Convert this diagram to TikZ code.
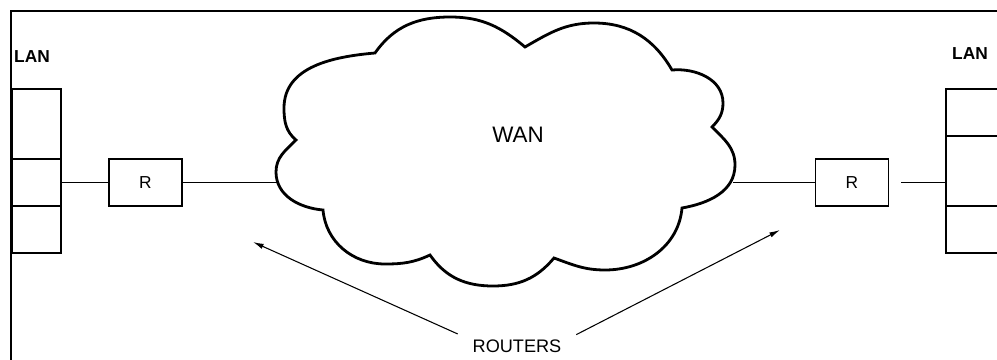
\documentclass[tikz,border=0pt]{standalone}
\usepackage{fontspec}
\setsansfont{Liberation Sans}
\usetikzlibrary{arrows.meta,positioning}

\begin{document}
\begin{tikzpicture}[x=0.75pt, y=0.75pt, font=\sffamily]
\tikzstyle{router}=[rectangle, draw, line width=0.9pt, minimum width=54.75pt, minimum height=35.25pt, inner sep=0pt, font=\sffamily\fontsize{13}{15}\selectfont]
\tikzstyle{lanbox}=[rectangle, draw, line width=0.9pt, minimum width=36.75pt, minimum height=123pt, inner sep=0pt]
\tikzstyle{lantag}=[inner sep=0pt, font=\sffamily\bfseries\fontsize{13}{15}\selectfont]
\tikzstyle{wire}=[line width=0.9pt]
\tikzstyle{pointer}=[line width=0.8pt, -{Latex[length=8pt, width=4pt]}]
\useasboundingbox (0,0) rectangle (997,-360);
% frame
\draw[line width=1.4pt] (11,-360) -- (11,-11) -- (997,-11);
% left LAN
\node[lantag] (lanAtag) at (32,-57) {LAN};
\node[lanbox] (lanA) at (36.5,-171) {};
\draw[wire] (lanA.west |- 0,-159) -- (lanA.east |- 0,-159) (lanA.west |- 0,-206) -- (lanA.east |- 0,-206);
% right LAN, open to the edge
\node[lantag] (lanBtag) at (970,-54) {LAN};
\coordinate (lanB) at (946,-182.5);
\draw[wire] (997,-89) -- (946,-89) -- (946,-253) -- (997,-253) (946,-136) -- (997,-136) (946,-206) -- (997,-206);
% routers
\node[router] (rA) at (145.5,-182.5) {R};
\node[router] (rB) at (852,-182.5) {R};
% WAN cloud
\draw[line width=2.1pt, fill=white] (296,-140) to[out=140,in=-90] (284,-108) to[out=90,in=185] (375,-53)
  to[out=55,in=180] (450,-17) to[out=0,in=140] (525,-47)
  to[out=30,in=180] (594,-23) to[out=0,in=120] (672,-70)
  to[out=5,in=90] (723,-103) to[out=-90,in=45] (712,-127)
  to[out=-45,in=90] (735,-165) to[out=-90,in=10] (682,-208)
  to[out=-95,in=0] (605,-270) to[out=180,in=-20] (554,-258)
  to[out=-130,in=0] (493,-286) to[out=180,in=-55] (430,-255)
  to[out=-155,in=0] (385,-264) to[out=180,in=-85] (323,-210)
  to[out=175,in=-90] (276,-172) to[out=90,in=-135] cycle;
\node[font=\sffamily\fontsize{16.8}{19}\selectfont] (wan) at (518,-135) {WAN};
\coordinate (wanW) at (278,-182.5);
\coordinate (wanE) at (733,-182.5);
% links
\draw[wire] (lanA.east |- rA.west) -- (rA.west);
\draw[wire] (rA.east) -- (wanW);
\draw[wire] (wanE) -- (rB.west);
\draw[wire, shorten <=9pt] (rB.east) -- (lanB);
% label with pointers
\node[inner sep=2pt, font=\sffamily\fontsize{13.6}{16}\selectfont] (routers) at (517,-346) {ROUTERS};
\coordinate (tipA) at (253,-242);
\coordinate (tipB) at (780,-230);
\draw[pointer] ([xshift=-9pt, yshift=2pt]routers.north west) -- (tipA);
\draw[pointer] ([xshift=9pt, yshift=1.5pt]routers.north east) -- (tipB);
\end{tikzpicture}
\end{document}
